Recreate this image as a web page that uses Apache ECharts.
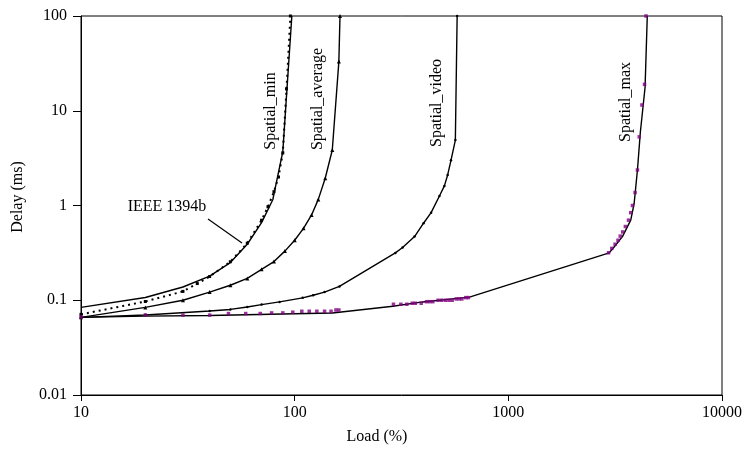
<!DOCTYPE html>
<html>
<head>
<meta charset="utf-8">
<script src="https://cdn.jsdelivr.net/npm/echarts@6/dist/echarts.min.js"></script>
<style>html,body{margin:0;padding:0;background:#fff}#c{width:745px;height:450px}</style>
</head>
<body>
<div id="c"></div>
<script>
// Load (%) , Delay (ms)
var spatialMin = [[10,0.084],[20,0.107],[30,0.138],[40,0.18],[50,0.25],[60,0.39],[70,0.66],[79,1.15],[88,3.7],[97,100]];
var ieee1394b = [[10,0.071],[20,0.097],[30,0.124],[35,0.15],[40,0.178],[50,0.255],[60,0.40],[70,0.70],[75,0.97],[80,1.4],[84,2.0],[88,3.6],[91.6,17],[95.5,100]];
var spatialAverage = [[10,0.066],[20,0.084],[30,0.1],[40,0.122],[50,0.144],[60,0.17],[70,0.212],[80,0.256],[90,0.33],[100,0.43],[110,0.574],[120,0.795],[129,1.16],[139,1.94],[150,3.85],[161,33],[163,100]];
var spatialVideo = [[10,0.066],[20,0.07],[40,0.077],[50,0.08],[60,0.085],[70,0.09],[85,0.096],[109,0.106],[122,0.113],[138,0.122],[162,0.14],[296,0.316],[320,0.36],[364,0.47],[401,0.65],[435,0.84],[476,1.26],[502,1.61],[520,2.1],[539,3.0],[565,4.9],[576,100]];
var spatialMax = [[10,0.066],[20,0.068],[40,0.069],[100,0.072],[150,0.0734],[288,0.0864],[398,0.096],[658,0.108],[2965,0.316],[3127,0.365],[3420,0.47],[3740,0.70],[3880,1.05],[4020,2.37],[4150,6],[4365,17.7],[4470,100]];
var spatialMaxPoints = [[10,0.0666],[20,0.07],[30,0.0697],[40,0.0697],[49,0.0724],[59,0.0724],[69,0.0724],[78,0.0735],[88,0.0735],[98,0.0748],[108,0.0765],[117,0.0765],[127,0.0765],[138,0.0765],[148,0.0765],[156,0.0789],[161,0.0789],[290,0.0907],[314,0.0907],[335,0.0907],[355,0.093],[367,0.093],[391,0.093],[414,0.0966],[428,0.0966],[443,0.0966],[469,0.1],[488,0.1],[509,0.1],[528,0.1],[546,0.1],[570,0.1033],[588,0.1033],[606,0.1033],[632,0.1066],[650,0.1066],[2944,0.317],[3050,0.353],[3160,0.39],[3260,0.43],[3340,0.475],[3430,0.526],[3530,0.6],[3650,0.7],[3740,0.84],[3810,1.0],[3920,1.37],[4020,2.37],[4100,5.3],[4220,11.5],[4340,19],[4410,100]];
var xTicks = [10, 100, 1000, 10000];
var yTicks = [0.01, 0.1, 1, 10, 100];
var seriesLabels = ['Spatial_min', 'Spatial_average', 'Spatial_video', 'Spatial_max', 'IEEE 1394b'];

var FONT = 'Liberation Serif';
function fmt(v){ return String(Number(Number(v).toPrecision(6))); }
var chart = echarts.init(document.getElementById('c'), null, {renderer:'canvas'});
function lineSeries(name, data, opts){
  return Object.assign({
    name: name, type: 'line', data: data, smooth: false,
    showSymbol: false, symbol: 'none',
    lineStyle: {color: '#000', width: 1.4},
    itemStyle: {color: '#000'}, z: 3, clip: true
  }, opts || {});
}
var lbl = '16px "' + FONT + '"';
var option = {
  animation: false,
  backgroundColor: '#fff',
  grid: {left: 81, right: 22, top: 16, bottom: 55, show: true, borderColor: '#000', borderWidth: 1, containLabel: false},
  xAxis: {
    type: 'log', logBase: 10, min: xTicks[0], max: xTicks[xTicks.length-1],
    axisLine: {show: true, lineStyle: {color: '#000', width: 1}},
    axisTick: {show: true, inside: false, length: 6, lineStyle: {color: '#000'}},
    minorTick: {show: false}, splitLine: {show: false},
    axisLabel: {fontFamily: FONT, fontSize: 16, color: '#000', margin: 10, formatter: fmt}
  },
  yAxis: {
    type: 'log', logBase: 10, min: yTicks[0], max: yTicks[yTicks.length-1],
    axisLine: {show: true, lineStyle: {color: '#000', width: 1}},
    axisTick: {show: true, inside: false, length: 8, lineStyle: {color: '#000'}},
    minorTick: {show: false}, splitLine: {show: false},
    axisLabel: {fontFamily: FONT, fontSize: 16, color: '#000', margin: 14, formatter: fmt}
  },
  series: [
    lineSeries(seriesLabels[3], spatialMax),
    lineSeries(seriesLabels[2], spatialVideo, {showSymbol: true, symbol: 'circle', symbolSize: 2.5}),
    lineSeries(seriesLabels[1], spatialAverage, {showSymbol: true, symbol: 'triangle', symbolSize: 4}),
    lineSeries(seriesLabels[0], spatialMin),
    lineSeries(seriesLabels[4], ieee1394b, {showSymbol: true, symbol: 'rect', symbolSize: 3, lineStyle: {color: '#000', width: 2, type: [2, 4]}}),
    {name: 'Spatial_max points', type: 'scatter', data: spatialMaxPoints, symbol: 'rect', symbolSize: 3.5,
     itemStyle: {color: '#800080'}, z: 4, clip: false}
  ],
  graphic: [
    {type: 'text', x: 18, y: 197, rotation: Math.PI/2, style: {text: 'Delay (ms)', font: lbl, fill: '#000', align: 'center', verticalAlign: 'middle'}},
    {type: 'text', x: 377, y: 437, style: {text: 'Load (%)', font: lbl, fill: '#000', align: 'center', verticalAlign: 'middle'}},
    {type: 'text', x: 271, y: 111, rotation: Math.PI/2, style: {text: seriesLabels[0], font: lbl, fill: '#000', align: 'center', verticalAlign: 'middle'}},
    {type: 'text', x: 318, y: 99, rotation: Math.PI/2, style: {text: seriesLabels[1], font: lbl, fill: '#000', align: 'center', verticalAlign: 'middle'}},
    {type: 'text', x: 437, y: 103, rotation: Math.PI/2, style: {text: seriesLabels[2], font: lbl, fill: '#000', align: 'center', verticalAlign: 'middle'}},
    {type: 'text', x: 626, y: 102, rotation: Math.PI/2, style: {text: seriesLabels[3], font: lbl, fill: '#000', align: 'center', verticalAlign: 'middle'}},
    {type: 'text', x: 167, y: 207, style: {text: seriesLabels[4], font: lbl, fill: '#000', align: 'center', verticalAlign: 'middle'}},
    {type: 'line', shape: {x1: 208, y1: 219, x2: 242, y2: 243}, style: {stroke: '#000', lineWidth: 1.2}}
  ]
};
chart.setOption(option);
</script>
</body>
</html>
